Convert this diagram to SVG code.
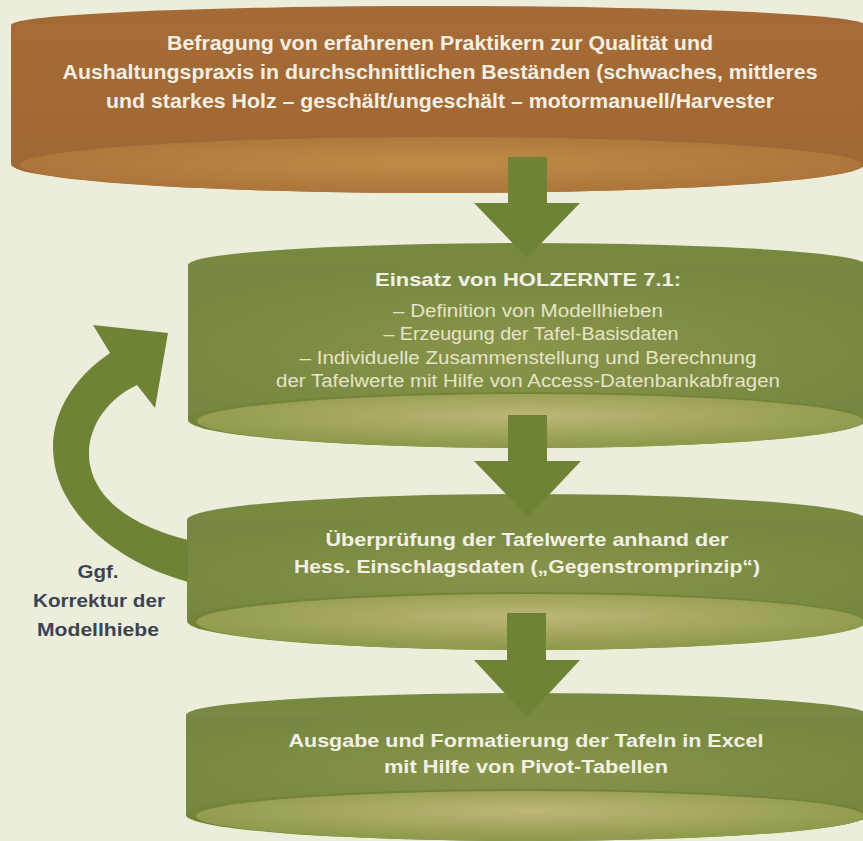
<svg xmlns="http://www.w3.org/2000/svg" width="863" height="841" viewBox="0 0 863 841">
  <style>
    .t { font-family: "Liberation Sans", Arial, sans-serif; text-anchor: middle; }
    .b { font-weight: bold; font-size: 20px; fill: #f4efe2; }
    .h { font-weight: bold; font-size: 19px; fill: #f3f1e3; }
    .r { font-size: 18px; fill: #e6e4c8; }
    .lbl { font-weight: bold; font-size: 19px; fill: #3c4452; }
    .arrow { fill: #6f8337; }
  </style>
  <defs>
    <linearGradient id="bodyO" x1="0" y1="0" x2="0" y2="1">
      <stop offset="0" stop-color="#a66b36"/>
      <stop offset="1" stop-color="#a06835"/>
    </linearGradient>
    <radialGradient id="lightO" cx="0.5" cy="0.45" r="0.5">
      <stop offset="0" stop-color="#c08a46"/>
      <stop offset="1" stop-color="#ad773c"/>
    </radialGradient>
    <radialGradient id="bodyG" cx="0.5" cy="0.55" r="0.6">
      <stop offset="0" stop-color="#89944a"/>
      <stop offset="1" stop-color="#758740"/>
    </radialGradient>
    <radialGradient id="lightG" cx="0.5" cy="0.4" r="0.55">
      <stop offset="0" stop-color="#bdb676"/>
      <stop offset="1" stop-color="#8f9a4c"/>
    </radialGradient>
  </defs>

  <rect x="0" y="0" width="863" height="841" fill="#eceedb"/>

  <g id="node1">
    <ellipse cx="438" cy="25" rx="427" ry="19" fill="url(#bodyO)"/>
    <rect x="11" y="25" width="854" height="138" fill="url(#bodyO)"/>
    <ellipse cx="438" cy="164" rx="427" ry="29" fill="#a06835"/>
    <ellipse cx="441" cy="165" rx="421" ry="28" fill="url(#lightO)"/>
    <text class="t b" x="440" y="50" textLength="546" lengthAdjust="spacingAndGlyphs">Befragung von erfahrenen Praktikern zur Qualität und</text>
    <text class="t b" x="440" y="79" textLength="755" lengthAdjust="spacingAndGlyphs">Aushaltungspraxis in durchschnittlichen Beständen (schwaches, mittleres</text>
    <text class="t b" x="440" y="108" textLength="668" lengthAdjust="spacingAndGlyphs">und starkes Holz – geschält/ungeschält – motormanuell/Harvester</text>
  </g>

  <g id="node2">
    <ellipse cx="527" cy="265" rx="339" ry="22" fill="#778940"/>
    <rect x="188" y="265" width="678" height="155" fill="url(#bodyG)"/>
    <ellipse cx="527" cy="420" rx="339" ry="28" fill="#738439"/>
    <ellipse cx="530" cy="421" rx="333" ry="27" fill="url(#lightG)"/>
    <text class="t h" x="528" y="286" textLength="306" lengthAdjust="spacingAndGlyphs">Einsatz von HOLZERNTE 7.1:</text>
    <text class="t r" x="528" y="317" textLength="270" lengthAdjust="spacingAndGlyphs">– Definition von Modellhieben</text>
    <text class="t r" x="531" y="340" textLength="295" lengthAdjust="spacingAndGlyphs">– Erzeugung der Tafel-Basisdaten</text>
    <text class="t r" x="528" y="364" textLength="457" lengthAdjust="spacingAndGlyphs">– Individuelle Zusammenstellung und Berechnung</text>
    <text class="t r" x="528" y="387" textLength="504" lengthAdjust="spacingAndGlyphs">der Tafelwerte mit Hilfe von Access-Datenbankabfragen</text>
  </g>

  <g id="node3">
    <ellipse cx="527" cy="520" rx="340" ry="26" fill="#788a41"/>
    <rect x="187" y="520" width="680" height="100" fill="url(#bodyG)"/>
    <ellipse cx="527" cy="621" rx="340" ry="29" fill="#738439"/>
    <ellipse cx="530" cy="622" rx="334" ry="28" fill="url(#lightG)"/>
    <text class="t h" x="527" y="546" textLength="403" lengthAdjust="spacingAndGlyphs">Überprüfung der Tafelwerte anhand der</text>
    <text class="t h" x="527" y="573" textLength="466" lengthAdjust="spacingAndGlyphs">Hess. Einschlagsdaten („Gegenstromprinzip“)</text>
  </g>

  <g id="node4">
    <ellipse cx="527" cy="715" rx="341" ry="22" fill="#788a41"/>
    <rect x="186" y="715" width="682" height="100" fill="url(#bodyG)"/>
    <ellipse cx="527" cy="815" rx="341" ry="26" fill="#738439"/>
    <ellipse cx="530" cy="816" rx="334" ry="25" fill="url(#lightG)"/>
    <text class="t h" x="526" y="747" textLength="475" lengthAdjust="spacingAndGlyphs">Ausgabe und Formatierung der Tafeln in Excel</text>
    <text class="t h" x="526" y="773" textLength="284" lengthAdjust="spacingAndGlyphs">mit Hilfe von Pivot-Tabellen</text>
  </g>

  <g id="label">
    <text class="t lbl" x="98" y="578" textLength="41" lengthAdjust="spacingAndGlyphs">Ggf.</text>
    <text class="t lbl" x="99" y="607" textLength="132" lengthAdjust="spacingAndGlyphs">Korrektur der</text>
    <text class="t lbl" x="98" y="636" textLength="122" lengthAdjust="spacingAndGlyphs">Modellhiebe</text>
  </g>

  <g id="connectors">
    <polygon class="arrow" points="508,157 547,157 547,203 580,203 527,258 474,203 508,203"/>
    <polygon class="arrow" points="508,415 547,415 547,461 581,461 528,517 474,461 508,461"/>
    <polygon class="arrow" points="507,613 546,613 546,660 580,660 527,717 474,660 507,660"/>
    <path class="arrow" d="M188,540 C140,528 98,505 90,465 C84,432 105,400 137,385 L155,408 L168,333 L93,325 L110,353 C70,380 48,420 54,460 C60,510 110,560 188,582 Z"/>
  </g>
</svg>
